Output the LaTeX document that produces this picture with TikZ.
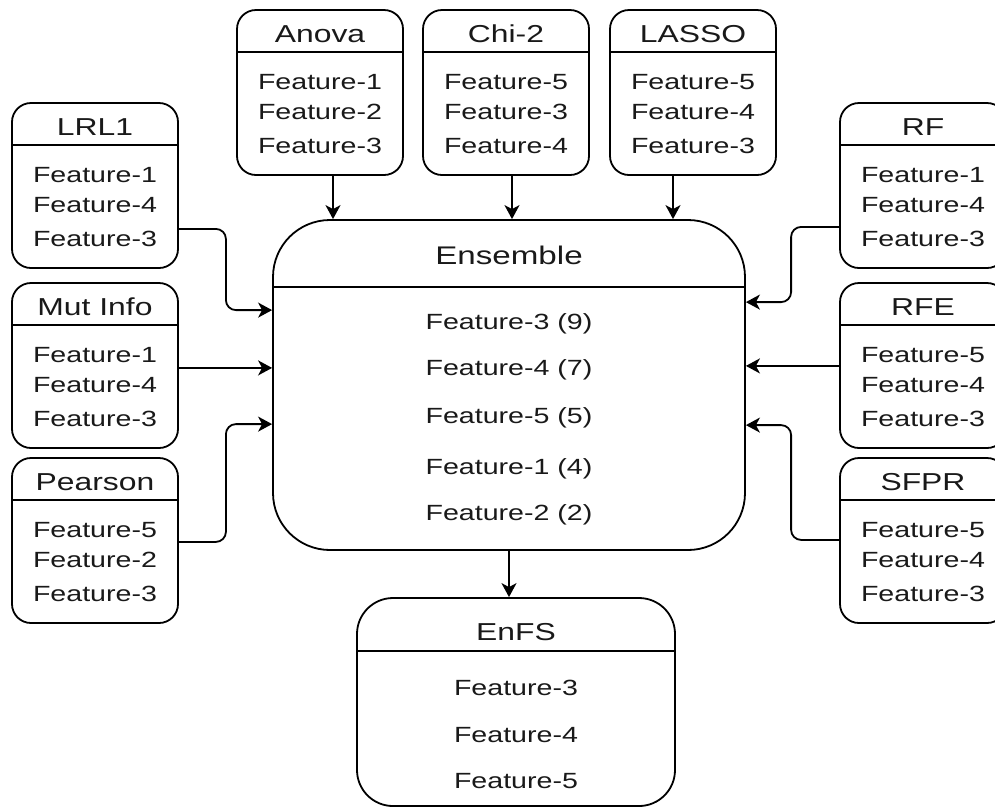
\documentclass[tikz,border=0pt]{standalone}
\usepackage{fontspec}
\setmainfont{Liberation Sans}[FakeStretch=1.3]
\usetikzlibrary{arrows.meta,calc}
\tikzset{
  fsbox/.style={draw, line width=1.8pt, rounded corners=19pt, minimum width=166pt, minimum height=165pt, inner sep=0pt},
  ftxt/.style={anchor=base, font=\fontsize{22}{26}\selectfont, inner sep=0pt, text=black!90},
  ttxt/.style={anchor=base, font=\fontsize{24.5}{28}\selectfont, inner sep=0pt, text=black!90},
  arr/.style={line width=1.8pt, -{Stealth[length=14pt,width=15pt,inset=4pt]}, rounded corners=10pt},
  hline/.style={line width=1.8pt}
}
\newcommand{\fsbox}[7]{%
  \node[fsbox] (#1) at (#2,#3+82.5) {};
  \draw[hline] (#1.west |- 0,#3+42) -- (#1.east |- 0,#3+42);
  \node[ttxt] (#1-t) at (#2,#3+32) {#4};
  \node[ftxt] (#1-a) at (#2,#3+79) {#5};
  \node[ftxt] (#1-b) at (#2,#3+109) {#6};
  \node[ftxt] (#1-c) at (#2,#3+143) {#7};
}
\begin{document}
\begin{tikzpicture}[x=1pt,y=-1pt]
\useasboundingbox (0,0) rectangle (995,807);
\clip (0,0) rectangle (995,807);
% top boxes
\fsbox{anova}{320}{10}{Anova}{Feature-1}{Feature-2}{Feature-3}
\fsbox{chi}{506}{10}{Chi-2}{Feature-5}{Feature-3}{Feature-4}
\fsbox{lasso}{693}{10}{LASSO}{Feature-5}{Feature-4}{Feature-3}
% left boxes
\fsbox{lrl}{95}{103}{LRL1}{Feature-1}{Feature-4}{Feature-3}
\fsbox{mut}{95}{283}{Mut Info}{Feature-1}{Feature-4}{Feature-3}
\fsbox{pear}{95}{458}{Pearson}{Feature-5}{Feature-2}{Feature-3}
% right boxes
\fsbox{rf}{923}{103}{RF}{Feature-1}{Feature-4}{Feature-3}
\fsbox{rfe}{923}{283}{RFE}{Feature-5}{Feature-4}{Feature-3}
\fsbox{sfpr}{923}{458}{SFPR}{Feature-5}{Feature-4}{Feature-3}
% ensemble
\node[draw, line width=1.8pt, rounded corners=57pt, minimum width=472pt, minimum height=330pt, inner sep=0pt] (ens) at (509,385) {};
\draw[hline] (ens.west |- 0,287) -- (ens.east |- 0,287);
\node[ttxt, font=\fontsize{25.5}{29}\selectfont] (ens-t) at (509,264) {Ensemble};
\node[ftxt] (ens-a) at (509,329) {Feature-3 (9)};
\node[ftxt] (ens-b) at (509,375) {Feature-4 (7)};
\node[ftxt] (ens-c) at (509,423) {Feature-5 (5)};
\node[ftxt] (ens-d) at (509,474) {Feature-1 (4)};
\node[ftxt] (ens-e) at (509,520) {Feature-2 (2)};
% EnFS
\node[draw, line width=1.8pt, rounded corners=36pt, minimum width=318pt, minimum height=208pt, inner sep=0pt] (enfs) at (516,702) {};
\draw[hline] (enfs.west |- 0,651) -- (enfs.east |- 0,651);
\node[ttxt] (enfs-t) at (516,640) {EnFS};
\node[ftxt] (enfs-a) at (516,695) {Feature-3};
\node[ftxt] (enfs-b) at (516,742) {Feature-4};
\node[ftxt] (enfs-c) at (516,788) {Feature-5};
% arrows top
\draw[arr] ([xshift=13pt]anova.south) -- ([xshift=13pt]anova.south |- ens.north);
\draw[arr] ([xshift=6pt]chi.south) -- ([xshift=6pt]chi.south |- ens.north);
\draw[arr] ([xshift=-20pt]lasso.south) -- ([xshift=-20pt]lasso.south |- ens.north);
% arrows left
\draw[arr] ([yshift=40pt]lrl.south east) -- ++(47,0) |- ([yshift=-91pt]ens.north west);
\draw[arr] ([yshift=81pt]mut.south east) -- ([yshift=81pt]mut.south east -| ens.west);
\draw[arr] ([yshift=82pt]pear.south east) -- ++(47,0) |- ([yshift=-205pt]ens.north west);
% arrows right
\draw[arr] ([yshift=42pt]rf.south west) -- ++(-48,0) |- ([yshift=-83pt]ens.north east);
\draw[arr] ([yshift=83pt]rfe.south west) -- ([yshift=83pt]rfe.south west -| ens.east);
\draw[arr] ([yshift=84pt]sfpr.south west) -- ++(-48,0) |- ([yshift=-206pt]ens.north east);
% to EnFS
\draw[arr] (ens.south) -- (ens.south |- enfs.north);
\end{tikzpicture}
\end{document}
